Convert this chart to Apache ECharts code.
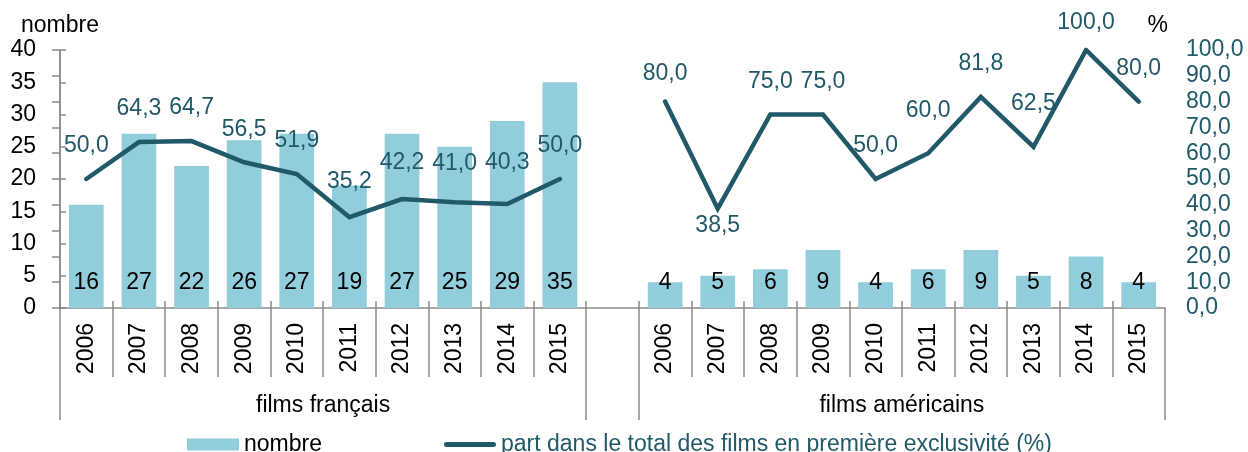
<!DOCTYPE html>
<html>
<head>
<meta charset="utf-8">
<script src="https://cdn.jsdelivr.net/npm/echarts@6/dist/echarts.min.js"></script>
<style>
html,body{margin:0;padding:0;background:#fff;}
#chart{width:1248px;height:452px;}
</style>
</head>
<body>
<div id="chart"></div>
<script>
// categories: french years, one empty slot, american years
var years = ['2006','2007','2008','2009','2010','2011','2012','2013','2014','2015'];
var groups = ['films français', 'films américains'];
var nombreFr = [16, 27, 22, 26, 27, 19, 27, 25, 29, 35];
var nombreUs = [4, 5, 6, 9, 4, 6, 9, 5, 8, 4];
var partFr = [50.0, 64.3, 64.7, 56.5, 51.9, 35.2, 42.2, 41.0, 40.3, 50.0];
var partUs = [80.0, 38.5, 75.0, 75.0, 50.0, 60.0, 81.8, 62.5, 100.0, 80.0];
var leftTicks = {min: 0, max: 40, interval: 5};
var rightTicks = {min: 0, max: 100, interval: 10};

var barName = 'nombre';
var lineName = 'part dans le total des films en première exclusivité (%)';

var teal = '#215968';
var aqua = '#92CDDC';
var grey = '#8a8a8a';
var font = "'Liberation Sans', Arial, sans-serif";
var fs = 23;

function virgule(v){
    return Number(v).toFixed(1).replace('.', ',');
}

var categories = years.concat(['']).concat(years);
var barData = nombreFr.concat([null]).concat(nombreUs);
var lineRaw = partFr.concat([null]).concat(partUs);

// label offsets for the line labels (index in the 21 slots)
var labelDist = {5: 24, 6: 24, 7: 27, 8: 29, 11: 16, 16: 31, 18: 31, 19: 15};
var lineData = lineRaw.map(function (v, i) {
    if (v == null) return null;
    var item = {value: v, label: {distance: labelDist[i] != null ? labelDist[i] : 21}};
    if (i == 12) {
        item.label = {position: 'bottom', distance: 5};
    }
    return item;
});

var nCat = categories.length;
var innerTicks = [];
for (var i = 1; i < nCat; i++) innerTicks.push(i);

var chart = echarts.init(document.getElementById('chart'));
var option = {
    animation: false,
    textStyle: {fontFamily: font},
    // unit of the right axis
    title: {
        text: '%',
        right: 80,
        top: 14,
        padding: 0,
        textStyle: {fontSize: fs, fontWeight: 'normal', color: '#000', fontFamily: font}
    },
    grid: {left: 60, right: 83, top: 50, bottom: 144},
    legend: {
        left: 182,
        top: 428,
        itemWidth: 52,
        itemHeight: 12,
        itemGap: 122,
        textStyle: {fontSize: fs, fontFamily: font},
        data: [
            {name: barName, icon: 'rect', textStyle: {color: '#000'}},
            {name: lineName, textStyle: {color: teal},
             icon: 'path://M2.5,0 L49.5,0 A2.5,2.5 0 0 1 49.5,5 L2.5,5 A2.5,2.5 0 0 1 2.5,0 Z'}
        ]
    },
    xAxis: [{
        type: 'category',
        data: categories,
        position: 'bottom',
        axisLine: {lineStyle: {color: grey, width: 1.5}},
        axisTick: {show: true, alignWithLabel: false, interval: 0, length: 69,
                   lineStyle: {color: grey, width: 1.5}},
        axisLabel: {interval: 0, rotate: 90, margin: 15, fontSize: fs, color: '#000', fontFamily: font},
        splitLine: {show: false}
    }, {
        // group labels + long separators
        type: 'value',
        min: 0,
        max: nCat,
        position: 'bottom',
        axisLine: {show: false},
        splitLine: {show: false},
        axisTick: {show: true, customValues: [0, 10, 11, nCat], length: 112,
                   lineStyle: {color: grey, width: 1.5}},
        axisLabel: {customValues: [5, 16], margin: 86, fontSize: fs, color: '#000', fontFamily: font,
            formatter: function (v) { return v == 5 ? groups[0] : groups[1]; }}
    }, {
        // small ticks above the axis
        type: 'value',
        min: 0,
        max: nCat,
        position: 'bottom',
        axisLine: {show: false},
        splitLine: {show: false},
        axisTick: {show: true, inside: true, customValues: innerTicks, length: 7,
                   lineStyle: {color: grey, width: 1.5}},
        axisLabel: {show: false}
    }],
    yAxis: [{
        type: 'value',
        min: leftTicks.min,
        max: leftTicks.max,
        interval: leftTicks.interval,
        name: 'nombre',
        nameLocation: 'end',
        nameGap: 13,
        nameTextStyle: {fontSize: fs, color: '#000', fontFamily: font},
        axisLine: {show: true, lineStyle: {color: grey, width: 1.5}},
        axisTick: {show: true, inside: true, length: 6, lineStyle: {color: grey, width: 1.5}},
        axisLabel: {fontSize: fs, color: '#000', margin: 24, fontFamily: font},
        splitLine: {show: false}
    }, {
        type: 'value',
        min: rightTicks.min,
        max: rightTicks.max,
        interval: rightTicks.interval,
        position: 'right',
        axisLine: {show: true, lineStyle: {color: grey, width: 1.5}},
        axisTick: {show: true, inside: true, length: 8, lineStyle: {color: grey, width: 1.5}},
        axisLabel: {fontSize: fs, color: teal, margin: 21, fontFamily: font, formatter: virgule},
        splitLine: {show: false}
    }],
    series: [{
        name: barName,
        type: 'bar',
        data: barData,
        barWidth: '66%',
        itemStyle: {color: aqua},
        label: {show: true, position: 'insideBottom', distance: 14, fontSize: fs, color: '#000', fontFamily: font}
    }, {
        name: lineName,
        type: 'line',
        yAxisIndex: 1,
        data: lineData,
        connectNulls: false,
        symbol: 'circle',
        symbolSize: 1,
        itemStyle: {color: teal},
        lineStyle: {color: teal, width: 4.5, cap: 'round', join: 'miter'},
        label: {show: true, position: 'top', fontSize: fs, color: teal, fontFamily: font, formatter: function (p) { return virgule(p.value); }},
        z: 3
    }]
};
chart.setOption(option);
</script>
</body>
</html>
